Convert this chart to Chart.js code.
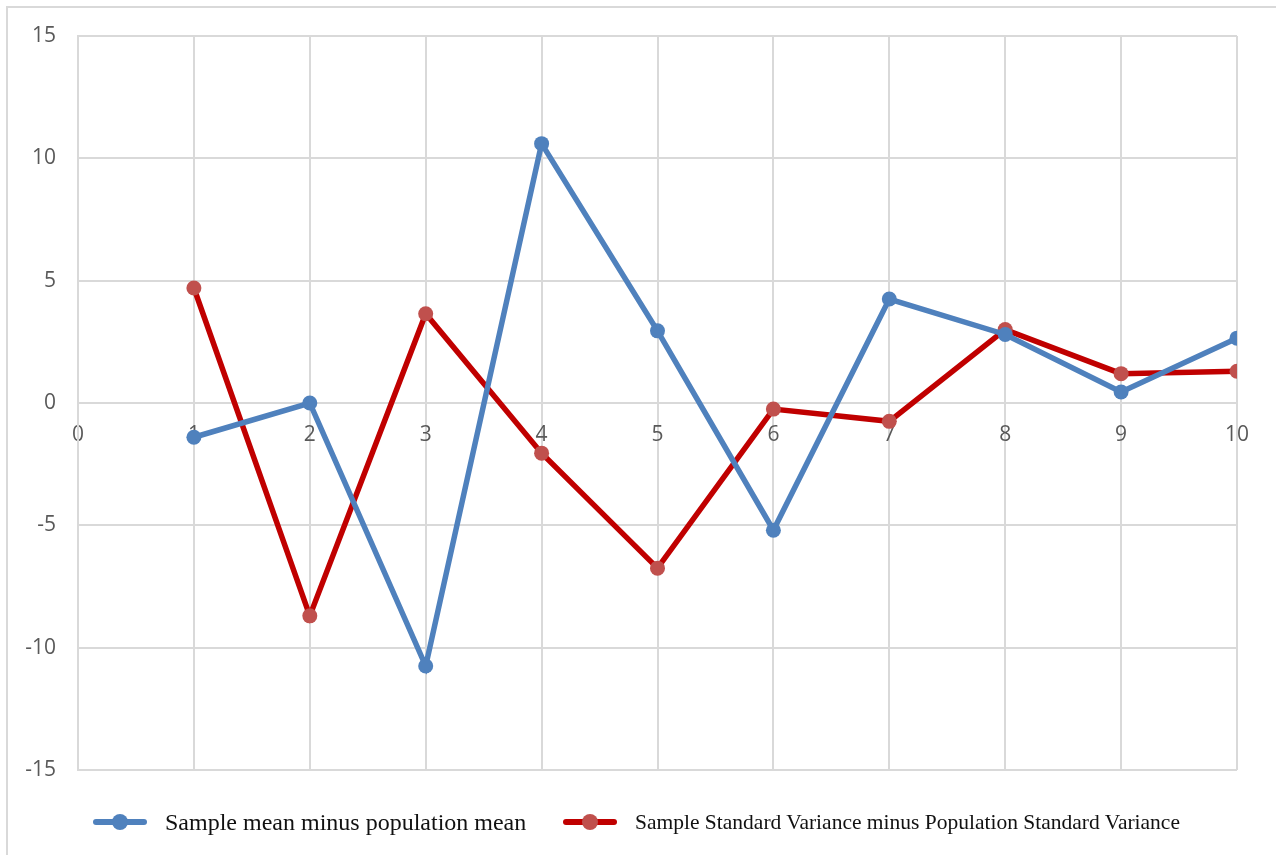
<!DOCTYPE html>
<html>
<head>
<meta charset="utf-8">
<script src="https://cdn.jsdelivr.net/npm/chart.js@4"></script>
<style>
  html, body { margin: 0; padding: 0; background: #fff; }
  #wrap { position: relative; width: 1276px; height: 855px; overflow: hidden; }
  #frame { position: absolute; left: 6px; top: 6px; width: 1400px; height: 1000px;
           border-top: 2px solid #d9d9d9; border-left: 2px solid #d9d9d9; }
  canvas { position: absolute; left: 0; top: 0; }
  .legend { position: absolute; top: 808px; height: 28px; display: flex; align-items: center;
            font-family: 'Liberation Serif', 'Times New Roman', serif; color: #111; }
  .swatch { position: relative; width: 54px; height: 28px; margin-right: 18px; }
  .swatch .ln { position: absolute; left: 0; right: 0; top: 11px; height: 6px; border-radius: 3px; }
  .swatch .dot { position: absolute; left: 19px; top: 6px; width: 16px; height: 16px; border-radius: 50%; }
</style>
</head>
<body>
<div id="wrap">
  <div id="frame"></div>
  <canvas id="chart" width="1276" height="855"></canvas>
  <div class="legend" style="left:93px; font-size:24px;">
    <div class="swatch"><div class="ln" style="background:#4F81BD"></div><div class="dot" style="background:#4F81BD"></div></div>
    <span id="lg0"></span>
  </div>
  <div class="legend" style="left:563px; font-size:21.5px;">
    <div class="swatch"><div class="ln" style="background:#C00000"></div><div class="dot" style="background:#C0504D"></div></div>
    <span id="lg1"></span>
  </div>
</div>
<script>
// sample index 1..10
const samples  = [1, 2, 3, 4, 5, 6, 7, 8, 9, 10];
const meanDiff = [-1.4, 0.0, -10.75, 10.6, 2.95, -5.2, 4.25, 2.8, 0.45, 2.65];
const sdDiff   = [4.7, -8.7, 3.65, -2.05, -6.75, -0.25, -0.75, 3.0, 1.2, 1.3];
const seriesNames = ['Sample mean minus population mean',
                     'Sample Standard Variance minus Population Standard Variance'];

const BLUE = '#4F81BD', RED = '#C00000', RED_PT = '#C0504D', GRID = '#d9d9d9';

document.getElementById('lg0').textContent = seriesNames[0];
document.getElementById('lg1').textContent = seriesNames[1];

const toPoints = ys => samples.map((x, i) => ({ x, y: ys[i] }));

new Chart(document.getElementById('chart'), {
  type: 'line',
  data: {
    datasets: [{
      label: seriesNames[0],
      data: toPoints(meanDiff),
      borderColor: BLUE, backgroundColor: BLUE,
      borderWidth: 5.5, pointRadius: 7.5, pointHoverRadius: 7.5,
      pointBorderWidth: 0, tension: 0
    }, {
      label: seriesNames[1],
      data: toPoints(sdDiff),
      borderColor: RED, backgroundColor: RED_PT,
      borderWidth: 5.5, pointRadius: 7.5, pointHoverRadius: 7.5,
      pointBorderWidth: 0, tension: 0
    }]
  },
  options: {
    responsive: false, animation: false,
    layout: { padding: { left: 0, right: 39, top: 36, bottom: 85 } },
    plugins: { legend: { display: false }, tooltip: { enabled: false } },
    scales: {
      x: {
        type: 'linear', position: { y: 0 }, min: 0, max: 10,
        grid: { color: GRID, lineWidth: 2, drawTicks: false },
        border: { color: GRID, width: 2 },
        ticks: { stepSize: 1, padding: 19, color: '#595959',
                 font: { family: "'Open Sans', sans-serif", size: 21 } }
      },
      y: {
        min: -15, max: 15,
        afterFit: s => { s.width = 78; },
        grid: { color: GRID, lineWidth: 2, drawTicks: false },
        border: { color: GRID, width: 2 },
        ticks: { stepSize: 5, padding: 22, color: '#595959',
                 font: { family: "'Open Sans', sans-serif", size: 21 } }
      }
    }
  }
});
</script>
</body>
</html>
